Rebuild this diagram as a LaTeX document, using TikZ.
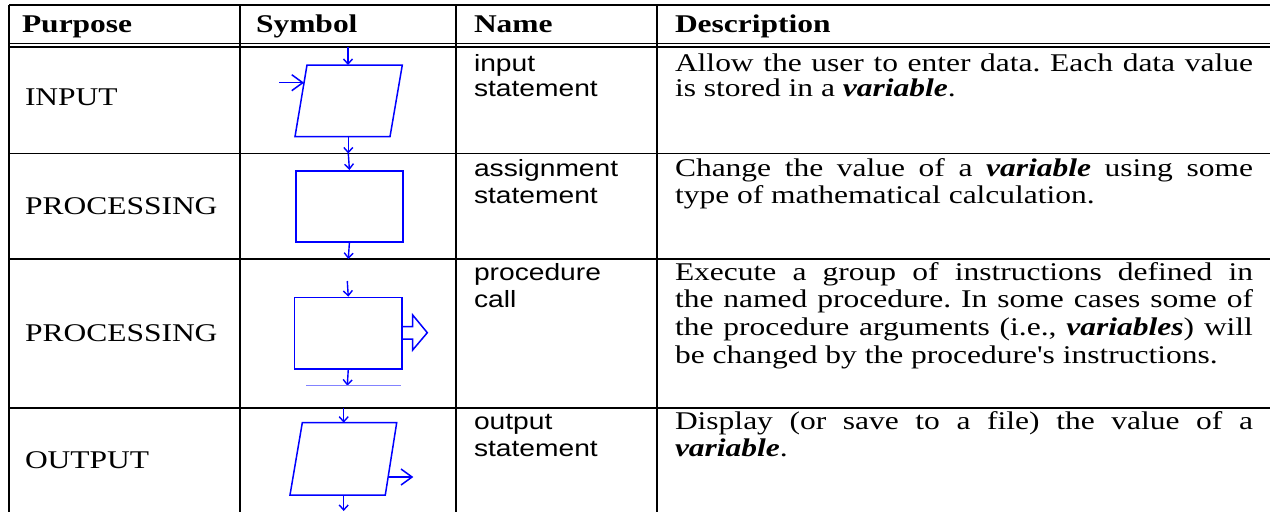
\documentclass[tikz,border=0pt]{standalone}
\usepackage{fontspec}
\setmainfont{Liberation Serif}[FakeStretch=1.235, Ligatures=TeXOff]
\newfontfamily\namefont{Liberation Sans}[FakeStretch=1.2]
\usetikzlibrary{arrows.meta}
\frenchspacing
\definecolor{symblue}{RGB}{0,0,255}
\definecolor{paleblue}{RGB}{130,130,255}
\newcommand{\var}[1]{\textbf{\textit{#1}}}
\newcommand{\jline}[1]{\makebox[578pt][s]{#1}}
\tikzset{
  rule/.style={black, line width=1.5pt},
  symline/.style={draw=symblue, line width=1.5pt, line join=miter},
  flow/.style={symblue, line width=1.4pt, -{Straight Barb[length=5pt,width=9pt]}},
  sideflow/.style={symblue, line width=1.5pt, -{Straight Barb[length=11pt,width=16pt]}},
  cell/.style={anchor=base west, inner sep=0pt, outer sep=0pt, font=\fontsize{25.5}{27.5}\selectfont},
  head/.style={cell, font=\fontsize{25.5}{27.5}\selectfont\bfseries},
  namecell/.style={cell, font=\fontsize{23.5}{27.5}\selectfont\namefont},
}
\begin{document}
\begin{tikzpicture}[x=1pt, y=-1pt]
\useasboundingbox (0,0) rectangle (1270,512);

% table grid
\draw[rule] (9,5) -- (1270,5);
\draw[rule, line width=1.2pt] (9,43.5) -- (1270,43.5);
\draw[rule, line width=1.2pt] (9,47) -- (1270,47);
\draw[rule] (9,153.5) -- (1270,153.5);
\draw[rule] (9,259) -- (1270,259);
\draw[rule] (9,408) -- (1270,408);
\foreach \cx in {9,240,456,657} \draw[rule] (\cx,5) -- (\cx,512);

% header
\node[head] (hpurpose) at (22,32) {Purpose};
\node[head] (hsymbol) at (256,32) {Symbol};
\node[head] (hname) at (474,32) {Name};
\node[head] (hdesc) at (675,32) {Description};

% purpose column
\node[cell] (pin) at (25,105.5) {INPUT};
\node[cell] (pproc) at (25,214.5) {PROCESSING};
\node[cell] (pcall) at (25,341.5) {PROCESSING};
\node[cell] (pout) at (25,468.5) {OUTPUT};

% name column
\node[namecell] (n1a) at (474,71) {input};
\node[namecell] (n1b) at (474,96) {statement};
\node[namecell] (n2a) at (474,176) {assignment};
\node[namecell] (n2b) at (474,203) {statement};
\node[namecell] (n3a) at (474,280) {procedure};
\node[namecell] (n3b) at (474,307) {call};
\node[namecell] (n4a) at (474,429) {output};
\node[namecell] (n4b) at (474,456) {statement};

% description column
\node[cell] (d1a) at (675,71) {\jline{Allow the user to enter data. Each data value}};
\node[cell] (d1b) at (675,96) {is stored in a \var{variable}.};
\node[cell] (d2a) at (675,176) {\jline{Change the value of a \var{variable} using some}};
\node[cell] (d2b) at (675,203) {type of mathematical calculation.};
\node[cell] (d3a) at (675,280) {\jline{Execute a group of instructions defined in}};
\node[cell] (d3b) at (675,307) {\jline{the named procedure. In some cases some of}};
\node[cell] (d3c) at (675,335) {\jline{the procedure arguments (i.e., \var{variables}) will}};
\node[cell] (d3d) at (675,363) {be changed by the procedure's instructions.};
\node[cell] (d4a) at (675,429) {\jline{Display (or save to a file) the value of a}};
\node[cell] (d4b) at (675,456) {\var{variable}.};

% input symbol
\coordinate (in1) at (307,65);
\coordinate (in2) at (402.3,65);
\coordinate (in3) at (390,136.7);
\coordinate (in4) at (295,136.7);
\draw[symline] (in1) -- (in2) -- (in3) -- (in4) -- cycle;
\coordinate (intop) at (348,65);
\coordinate (inbot) at (348.3,136.7);
\coordinate (inleft) at (304,82.7);
\coordinate (infeed) at (279.3,82.7);
\coordinate (r1top) at (348,47);
\coordinate (r2top) at (348.3,153.5);
\draw[flow] (r1top) -- (intop);
\draw[sideflow] (infeed) -- (inleft);
\draw[flow] (inbot) -- (r2top);

% assignment symbol
\node[symline, minimum width=107.3pt, minimum height=71pt, inner sep=0pt, anchor=north west]
  (assign) at (295,170) {};
\draw[flow] (r2top) -- (assign.north);
\coordinate (r3top) at (348.3,259);
\draw[flow] (assign.south) -- (r3top);

% procedure call symbol
\node[symline, minimum width=107.6pt, minimum height=71.6pt, inner sep=0pt, anchor=north west]
  (call) at (293.7,296.7) {};
\coordinate (callin) at (347.3,281);
\coordinate (callout) at (347.3,385.7);
\draw[flow] (callin) -- (call.north);
\draw[flow] (call.south) -- (callout);
\draw[symline] (call.east |- 0,326.7) -- (412.7,326.7) -- (412.7,315) -- (427.3,332.7)
  -- (412.7,350) -- (412.7,339) -- (call.east |- 0,339);
\draw[paleblue, line width=0.9pt] (306,385.7) -- (401,385.7);

% output symbol
\coordinate (out1) at (302.3,422.7);
\coordinate (out2) at (396.7,422.7);
\coordinate (out3) at (385.3,495);
\coordinate (out4) at (290,495);
\draw[symline] (out1) -- (out2) -- (out3) -- (out4) -- cycle;
\coordinate (r4top) at (343.7,408);
\coordinate (outtop) at (343.7,422.7);
\coordinate (outbot) at (343.7,495);
\coordinate (outend) at (343.7,511);
\coordinate (outright) at (388.1,477);
\coordinate (outfeed) at (413.3,477);
\draw[flow] (r4top) -- (outtop);
\draw[sideflow] (outright) -- (outfeed);
\draw[flow] (outbot) -- (outend);
\end{tikzpicture}
\end{document}
